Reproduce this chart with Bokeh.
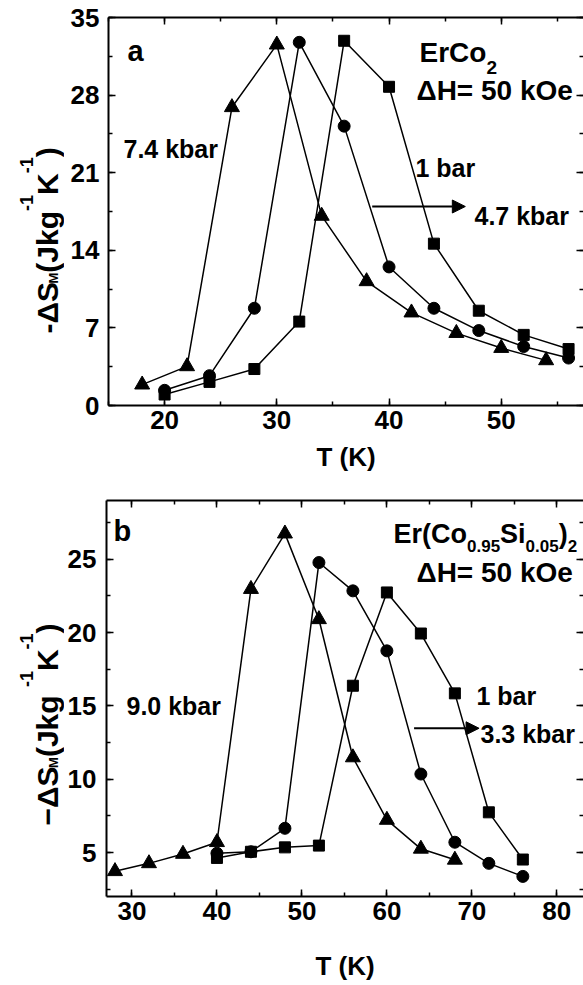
import math
from bokeh.plotting import figure
from bokeh.models import Range1d, SingleIntervalTicker, LinearAxis, Label, Arrow, NormalHead
from bokeh.layouts import column, row
from bokeh.embed import file_html
from bokeh.resources import INLINE

FONT = "Liberation Sans"

# ---------------- data: panel a (ErCo2) ----------------
T_a_1bar = [20, 24, 28, 32, 36, 40, 44, 48, 52, 56]
S_a_1bar = [0.99, 2.13, 3.29, 7.57, 32.9, 28.75, 14.6, 8.55, 6.37, 5.09]
T_a_47 = [20, 24, 28, 32, 36, 40, 44, 48, 52, 56]
S_a_47 = [1.37, 2.69, 8.77, 32.76, 25.2, 12.5, 8.77, 6.76, 5.32, 4.28]
T_a_74 = [18, 22, 26, 30, 34, 38, 42, 46, 50, 54]
S_a_74 = [1.88, 3.53, 26.9, 32.55, 17.1, 11.2, 8.38, 6.53, 5.18, 4.07]

# ---------------- data: panel b (Er(Co0.95Si0.05)2) ----------------
T_b_1bar = [40, 44, 48, 52, 56, 60, 64, 68, 72, 76]
S_b_1bar = [4.63, 5.05, 5.35, 5.47, 16.37, 22.73, 19.93, 15.85, 7.74, 4.52]
T_b_33 = [40, 44, 48, 52, 56, 60, 64, 68, 72, 76]
S_b_33 = [4.95, 5.05, 6.65, 24.77, 22.84, 18.75, 10.35, 5.7, 4.26, 3.37]
T_b_90 = [28, 32, 36, 40, 44, 48, 52, 56, 60, 64, 68]
S_b_90 = [3.72, 4.26, 4.9, 5.7, 22.96, 26.74, 20.9, 11.48, 7.22, 5.25, 4.5]

XTICK_A, YTICK_A = 10, 7
XTICK_B, YTICK_B = 10, 5

# approximate advance widths (em) of Liberation Sans Bold
W = {'-': 0.333, '\u2212': 0.584, '\u0394': 0.668, 'S': 0.667, 'M': 0.833, '(': 0.333,
     ')': 0.333, 'J': 0.556, 'k': 0.556, 'g': 0.611, '1': 0.556, 'K': 0.722, ' ': 0.278,
     '0': 0.556, '.': 0.278, '9': 0.556, '5': 0.556, 'i': 0.278, 'E': 0.667, 'r': 0.389,
     'C': 0.722, 'o': 0.611, '2': 0.556}


def tw(s, size):
    return sum(W.get(c, 0.6) for c in s) * size


def label(p, cx, cy, text, size, angle=0.0):
    p.add_layout(Label(x=cx, y=cy, x_units="canvas", y_units="canvas", text=text,
                       angle=angle, text_font=FONT, text_font_style="bold",
                       text_font_size=f"{size}px", text_align="left",
                       text_baseline="alphabetic", text_color="black"))


def add_text(p, fig_left, fig_top, x, y, pieces):
    """Horizontal rich text. pieces: (text, px, shift up px); x, y: page px of baseline start."""
    pos = 0.0
    for text, size, shift in pieces:
        label(p, x - fig_left + pos, y - fig_top - shift, text, size)
        pos += tw(text, size)


def add_vertical(p, fig_left, fig_top, bx, y_start, pieces):
    """Rotated (reads bottom-to-top) rich text; bx page x of baseline, y_start page y."""
    pos = 0.0
    for text, size, shift in pieces:
        label(p, bx - fig_left - shift, y_start - fig_top - pos, text, size, angle=math.pi / 2)
        pos += tw(text, size)


def text_fig(w, h):
    f = figure(width=w, height=h, x_range=Range1d(0, w), y_range=Range1d(0, h),
               x_axis_type=None, y_axis_type=None, output_backend="svg",
               toolbar_location=None, min_border=0)
    f.grid.visible = False
    f.outline_line_color = None
    return f


def make_fig(w, h, xr, yr, fl, ft, fb, xint, yint, xlab_standoff, ylab_standoff, axlab_standoff):
    p = figure(width=w, height=h, x_range=Range1d(*xr), y_range=Range1d(*yr),
               output_backend="svg", toolbar_location=None,
               min_border_left=fl, min_border_top=ft, min_border_right=0, min_border_bottom=fb)
    p.grid.visible = False
    p.outline_line_color = None
    p.xaxis.ticker = SingleIntervalTicker(interval=xint, num_minor_ticks=2)
    p.yaxis.ticker = SingleIntervalTicker(interval=yint, num_minor_ticks=2)
    for ax in (p.xaxis[0], p.yaxis[0]):
        ax.major_tick_in = 7
        ax.major_tick_out = 0
        ax.minor_tick_in = 4
        ax.minor_tick_out = 0
        ax.axis_line_width = 2
        ax.major_tick_line_width = 1.5
        ax.minor_tick_line_width = 1.5
        ax.major_label_text_font = FONT
        ax.major_label_text_font_style = "bold"
        ax.major_label_text_font_size = "26px"
        ax.major_label_text_color = "black"
    p.xaxis.major_label_standoff = xlab_standoff
    p.yaxis.major_label_standoff = ylab_standoff
    p.xaxis.axis_label = "T (K)"
    p.xaxis.axis_label_text_font = FONT
    p.xaxis.axis_label_text_font_style = "bold"
    p.xaxis.axis_label_text_font_size = "26px"
    p.xaxis.axis_label_text_color = "black"
    p.xaxis.axis_label_standoff = axlab_standoff
    top = LinearAxis(ticker=SingleIntervalTicker(interval=xint, num_minor_ticks=2),
                     major_tick_in=7, major_tick_out=0, minor_tick_in=4, minor_tick_out=0,
                     axis_line_width=2, major_tick_line_width=1.5, minor_tick_line_width=1.5,
                     major_label_text_font_size="0px", major_label_text_color=None,
                     major_label_standoff=0)
    right = LinearAxis(ticker=SingleIntervalTicker(interval=yint, num_minor_ticks=2),
                       major_tick_in=7, major_tick_out=0, minor_tick_in=4, minor_tick_out=0,
                       axis_line_color=None, major_tick_line_width=1.5, minor_tick_line_width=1.5,
                       major_label_text_font_size="0px", major_label_text_color=None,
                       major_label_standoff=0)
    p.add_layout(top, "above")
    p.add_layout(right, "right")
    return p


def series(p, xs, ys, marker, size):
    p.line(xs, ys, line_color="black", line_width=1.5)
    p.scatter(xs, ys, marker=marker, size=size, fill_color="black", line_color="black")


# ---------------- panel a ----------------
YA_W, HA = 64, 476
TOP_A = 0
pa = make_fig(583 - YA_W, HA, (15, 57.33), (0, 35), 44, 17, 71, XTICK_A, YTICK_A,
              xlab_standoff=5, ylab_standoff=9, axlab_standoff=10)
series(pa, T_a_74, S_a_74, "triangle", 15)
series(pa, T_a_47, S_a_47, "circle", 12)
series(pa, T_a_1bar, S_a_1bar, "square", 11)

add_text(pa, YA_W, TOP_A, 127, 50, [("a", 29, 0)])
add_text(pa, YA_W, TOP_A, 419, 52, [("ErCo", 28, 0), ("2", 19, -15)])
add_text(pa, YA_W, TOP_A, 416, 90, [("\u0394H= 50 kOe", 28, 0)])
add_text(pa, YA_W, TOP_A, 123, 148, [("7.4 kbar", 25, 0)])
add_text(pa, YA_W, TOP_A, 415, 167, [("1 bar", 25, 0)])
add_text(pa, YA_W, TOP_A, 474, 215, [("4.7 kbar", 25, 0)])
pa.add_layout(Arrow(end=NormalHead(size=13, fill_color="black", line_color="black"),
                    x_start=38.5, y_start=17.95, x_end=46.8, y_end=17.95,
                    line_width=2, line_color="black"))

yla = text_fig(YA_W, HA)
add_vertical(yla, 0, TOP_A, 46.7, 333,
             [("-\u0394S", 30, 0), ("M", 13, -6), ("(Jkg", 30, 0), ("-1", 18, 21),
              ("K", 30, 0), ("-1", 18, 21), (")", 30, 0)])

# ---------------- panel b ----------------
YB_W, HB = 64, 508
TOP_B = TOP_A + HA
pb = make_fig(583 - YB_W, HB, (27, 83.14), (2, 29), 39, 24, 88, XTICK_B, YTICK_B,
              xlab_standoff=5, ylab_standoff=10, axlab_standoff=28)
series(pb, T_b_90, S_b_90, "triangle", 15)
series(pb, T_b_33, S_b_33, "circle", 12)
series(pb, T_b_1bar, S_b_1bar, "square", 11)

add_text(pb, YB_W, TOP_B, 113, 530, [("b", 29, 0)])
add_text(pb, YB_W, TOP_B, 393, 533, [("Er(Co", 27, 0), ("0.95", 17, -12), ("Si", 27, 0),
                                     ("0.05", 17, -12), (")", 27, 0), ("2", 17, -12)])
add_text(pb, YB_W, TOP_B, 416, 572, [("\u0394H= 50 kOe", 28, 0)])
add_text(pb, YB_W, TOP_B, 126, 705, [("9.0 kbar", 25, 0)])
add_text(pb, YB_W, TOP_B, 476, 695, [("1 bar", 25, 0)])
add_text(pb, YB_W, TOP_B, 480, 733, [("3.3 kbar", 25, 0)])
pb.add_layout(Arrow(end=NormalHead(size=13, fill_color="black", line_color="black"),
                    x_start=63.2, y_start=13.47, x_end=70.85, y_end=13.47,
                    line_width=2, line_color="black"))

ylb = text_fig(YB_W, HB)
add_vertical(ylb, 0, TOP_B, 46.7, 825,
             [("\u2212\u0394S", 30, 0), ("M", 13, -6), (" (Jkg", 30, 0), ("-1", 18, 21),
              ("K", 30, 0), ("-1", 18, 21), (")", 30, 0)])

layout = column(row(yla, pa, spacing=0), row(ylb, pb, spacing=0), spacing=0)
open("out.html", "w").write(file_html(layout, INLINE))
